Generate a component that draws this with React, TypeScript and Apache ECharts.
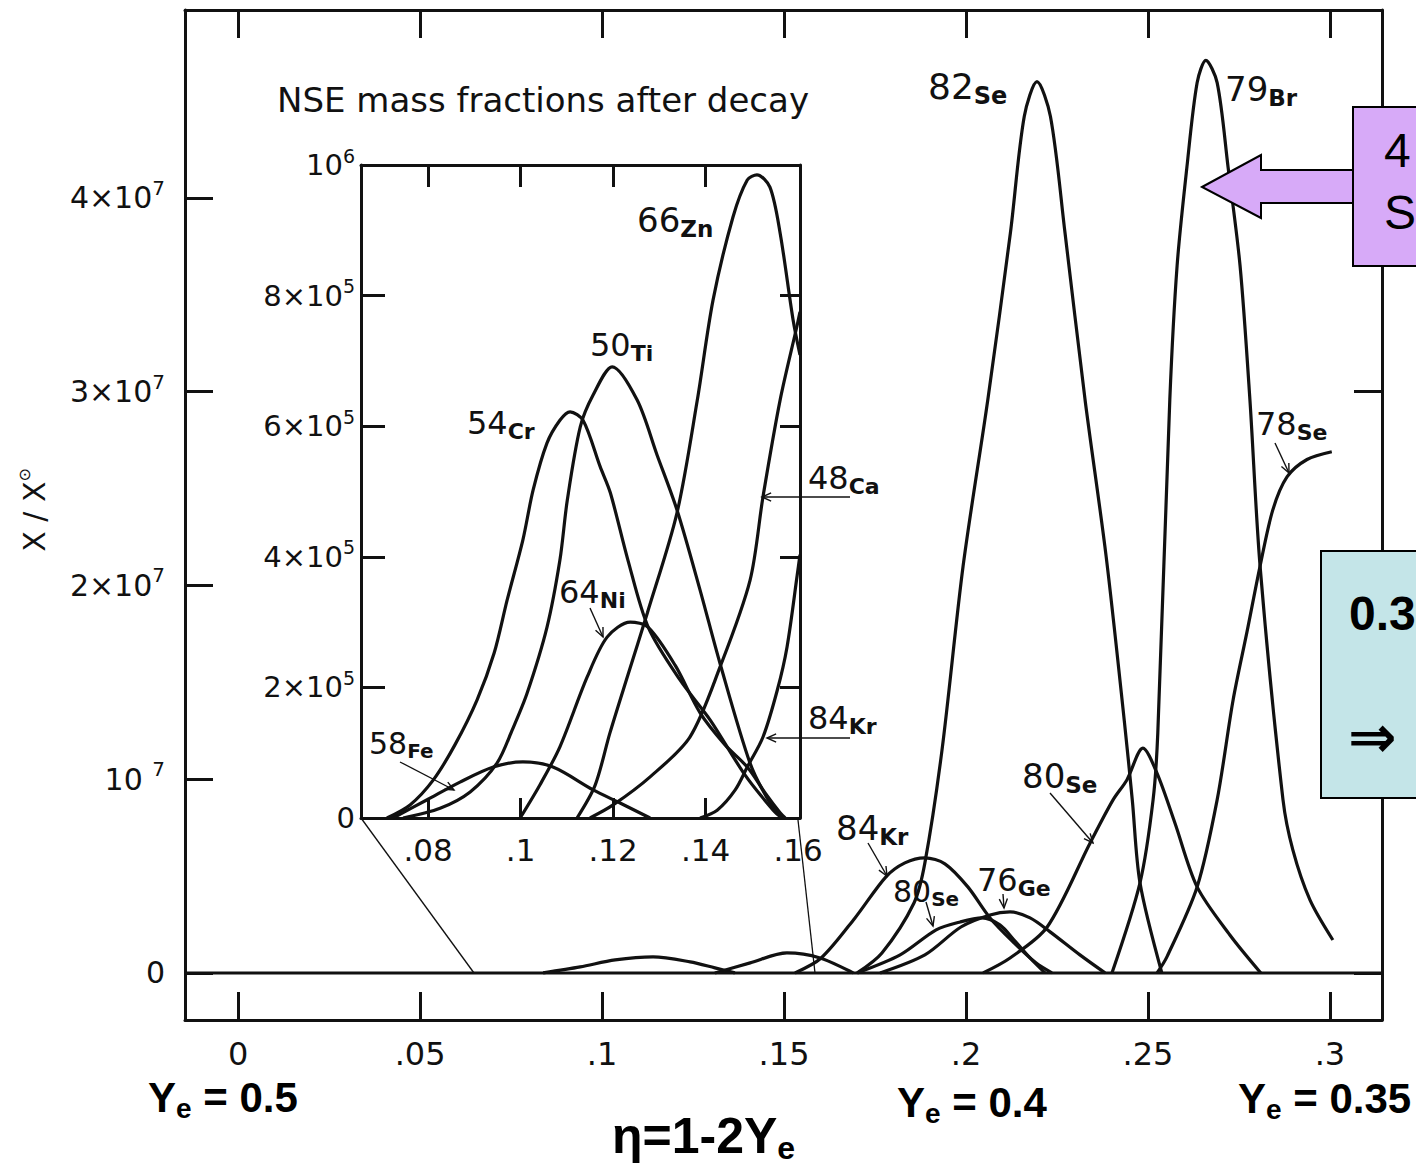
import React, { useEffect, useRef } from "react";
import * as echarts from "echarts";

const SANS = "DejaVu Sans";
const ARIAL = "Liberation Sans";
const INK = "#111";

// ---------------- axis ticks / labels ----------------
const mainXTicks = [0, 0.05, 0.1, 0.15, 0.2, 0.25, 0.3];
const mainXTickLabels = ["0", ".05", ".1", ".15", ".2", ".25", ".3"];
const mainYTicks = [0, 10, 20, 30, 40]; // units of 10^6
const mainYTickLabels = ["0", "10 ^7", "2×10^7", "3×10^7", "4×10^7"];
const insetXTicks = [0.08, 0.1, 0.12, 0.14, 0.16];
const insetXTopTicks = [0.08, 0.1, 0.12, 0.14];
const insetXTickLabels = [".08", ".1", ".12", ".14", ".16"];
const insetYTicks = [0, 2, 4, 6, 8, 10]; // units of 10^5
const insetYTickLabels = ["0", "2×10^5", "4×10^5", "6×10^5", "8×10^5", "10^6"];

const mainRange = { xMin: -0.0146, xMax: 0.3143, yMin: -2.43, yMax: 49.7 };
const insetRange = { xMin: 0.0655, xMax: 0.1604, yMin: 0, yMax: 10 };

// ---------------- main panel curves: [eta, X/Xsun in 10^6] ----------------
const se82 = [[0.1701, 0], [0.1769, 1.03], [0.1857, 3.61], [0.1887, 5.68], [0.1934, 11.5], [0.1992, 21.0], [0.206, 29.6], [0.2122, 38.2], [0.216, 44.2], [0.2195, 46.0], [0.2232, 44.2], [0.2272, 38.2], [0.2327, 29.6], [0.2385, 21.5], [0.2435, 13.0], [0.2457, 8.9], [0.2478, 4.65], [0.2538, 0]];
const br79 = [[0.2401, 0], [0.2478, 4.65], [0.2514, 8.93], [0.2527, 12.4], [0.256, 29.6], [0.258, 36.5], [0.2607, 41.6], [0.2635, 45.95], [0.2659, 47.1], [0.269, 45.95], [0.272, 41.6], [0.2753, 36.5], [0.278, 29.6], [0.2808, 21.0], [0.2871, 8.93], [0.2898, 6.35], [0.2945, 3.77], [0.3008, 1.7]];
const se78 = [[0.2525, 0], [0.2552, 0.83], [0.2635, 4.44], [0.269, 8.93], [0.2734, 14.1], [0.2772, 17.6], [0.2808, 21.0], [0.2843, 23.9], [0.2882, 25.6], [0.2937, 26.5], [0.3005, 26.9]];
const se80 = [[0.2047, 0], [0.2121, 0.77], [0.2223, 2.37], [0.2341, 6.71], [0.2404, 8.93], [0.2442, 9.96], [0.2486, 11.6], [0.2525, 10.3], [0.2574, 7.74], [0.2635, 4.44], [0.2725, 1.96], [0.281, 0]];
const kr84 = [[0.153, 0], [0.1602, 0.77], [0.1695, 2.84], [0.178, 4.96], [0.1832, 5.68], [0.1887, 5.94], [0.1942, 5.63], [0.2005, 4.44], [0.2066, 2.84], [0.2132, 1.55], [0.2192, 0.52], [0.2236, 0]];
const se80Low = [[0.1701, 0], [0.1819, 0.93], [0.1918, 2.22], [0.1984, 2.63], [0.2044, 2.84], [0.2093, 2.48], [0.2132, 1.7], [0.2176, 0.77], [0.2217, 0]];
const ge76 = [[0.1764, 0], [0.1887, 0.93], [0.1986, 2.37], [0.2066, 2.99], [0.2121, 3.15], [0.2176, 2.84], [0.2231, 2.12], [0.2313, 0.93], [0.2382, 0]];
const lowHumpA = [[0.0838, 0], [0.094, 0.31], [0.1036, 0.67], [0.114, 0.83], [0.1242, 0.57], [0.131, 0.26], [0.1365, 0]];
const lowHumpB = [[0.131, 0], [0.1407, 0.52], [0.1508, 1.03], [0.1599, 0.77], [0.169, 0]];
const zeroLine = [[mainRange.xMin, 0], [mainRange.xMax, 0]];

// ---------------- inset curves: [eta, X/Xsun in 10^5] ----------------
const fe58 = [[0.0724, 0], [0.0798, 0.28], [0.0869, 0.55], [0.0941, 0.78], [0.1005, 0.86], [0.107, 0.78], [0.1157, 0.43], [0.1215, 0.23], [0.128, 0]];
const cr54 = [[0.0711, 0], [0.0761, 0.2], [0.0811, 0.58], [0.0858, 1.12], [0.0906, 1.81], [0.0943, 2.53], [0.0971, 3.34], [0.1005, 4.26], [0.1027, 5.02], [0.1057, 5.74], [0.1085, 6.09], [0.1107, 6.22], [0.1135, 6.09], [0.1172, 5.38], [0.1194, 4.98], [0.1232, 3.95], [0.1276, 2.92], [0.1345, 2.11], [0.141, 1.5], [0.1485, 0.66], [0.1546, 0.12], [0.1565, 0]];
const ti50 = [[0.0746, 0], [0.0826, 0.15], [0.0891, 0.4], [0.0949, 0.84], [0.0982, 1.35], [0.1014, 1.91], [0.1057, 2.92], [0.1085, 3.95], [0.1101, 4.87], [0.1129, 5.99], [0.1157, 6.48], [0.1198, 6.91], [0.1252, 6.4], [0.1295, 5.56], [0.1338, 4.72], [0.1388, 3.49], [0.1431, 2.37], [0.1496, 0.84], [0.1535, 0.28], [0.1565, 0]];
const ni64 = [[0.0999, 0], [0.1042, 0.51], [0.1085, 1.09], [0.1144, 2.16], [0.1187, 2.77], [0.1237, 3.0], [0.1276, 2.92], [0.1334, 2.34], [0.1388, 1.61], [0.1442, 1.12], [0.149, 0.78], [0.1529, 0.38], [0.1561, 0.08], [0.1572, 0]];
const zn66 = [[0.1122, 0], [0.1161, 0.5], [0.1193, 1.3], [0.1232, 2.19], [0.1274, 3.14], [0.1338, 4.67], [0.1382, 6.4], [0.1416, 7.93], [0.1459, 9.2], [0.149, 9.77], [0.1511, 9.85], [0.1539, 9.66], [0.1561, 8.96], [0.1589, 7.63], [0.1604, 7.09]];
const ca48 = [[0.115, 0], [0.12, 0.2], [0.128, 0.63], [0.1366, 1.24], [0.1431, 2.31], [0.1496, 3.64], [0.1524, 4.92], [0.1561, 6.4], [0.1598, 7.55], [0.1604, 7.75]];
const kr84Inset = [[0.1388, 0], [0.1425, 0.12], [0.1464, 0.43], [0.149, 0.78], [0.1524, 1.24], [0.1555, 1.96], [0.1576, 2.62], [0.1598, 3.72], [0.1604, 4.03]];

const mainCurves = [se82, br79, se78, se80, kr84, se80Low, ge76, lowHumpA, lowHumpB];
const insetCurves = [fe58, cr54, ti50, ni64, zn66, ca48, kr84Inset];

// ---------------- annotation texts ----------------
const INSET_TITLE = "NSE mass fractions after decay";
const isotopeLabels = [
  { x: 928, y: 86, n: "82", e: "Se", s: 36 },
  { x: 1225, y: 89, n: "79", e: "Br", s: 34 },
  { x: 1256, y: 424, n: "78", e: "Se", s: 32 },
  { x: 1022, y: 776, n: "80", e: "Se", s: 34 },
  { x: 836, y: 828, n: "84", e: "Kr", s: 34 },
  { x: 893, y: 891, n: "80", e: "Se", s: 30 },
  { x: 977, y: 880, n: "76", e: "Ge", s: 32 },
  { x: 369, y: 743, n: "58", e: "Fe", s: 30 },
  { x: 467, y: 423, n: "54", e: "Cr", s: 32 },
  { x: 590, y: 345, n: "50", e: "Ti", s: 32 },
  { x: 559, y: 592, n: "64", e: "Ni", s: 32 },
  { x: 637, y: 220, n: "66", e: "Zn", s: 34 },
  { x: 808, y: 478, n: "48", e: "Ca", s: 32 },
  { x: 808, y: 718, n: "84", e: "Kr", s: 32 },
];
const calloutArrows = [
  [400, 762, 454, 790],
  [590, 608, 603, 637],
  [850, 497, 762, 497],
  [850, 738, 767, 738],
  [1275, 443, 1289, 473],
  [1050, 793, 1093, 843],
  [868, 843, 887, 876],
  [926, 902, 933, 926],
  [1003, 894, 1004, 908],
];
const yeLabels = [
  { x: 148, y: 1097, v: " = 0.5" },
  { x: 897, y: 1102, v: " = 0.4" },
  { x: 1238, y: 1098, v: " = 0.35" },
];

const pick = (ticks: number[], labels: string[]) => (v: number) => {
  const i = ticks.findIndex((t) => Math.abs(t - v) < 1e-9);
  return i >= 0 ? labels[i] : "";
};
const supRich = (s: string) => {
  if (!s) return "";
  const [a, b] = s.split("^");
  return b ? `{b|${a}}{s|${b}}` : `{b|${a}}`;
};

function buildOption() {
  const lineSeries = (data: number[][], xi: number, yi: number, w = 3.2) => ({
    type: "line",
    xAxisIndex: xi,
    yAxisIndex: yi,
    data,
    symbol: "none",
    smooth: 0.3,
    silent: true,
    lineStyle: { color: INK, width: w },
    z: 3,
  });

  const frame = { color: INK, width: 3 };
  const tickStyle = { color: INK, width: 3 };

  const xAxis: any[] = [
    {
      gridIndex: 0, type: "value", position: "bottom", min: mainRange.xMin, max: mainRange.xMax,
      axisLine: { show: true, onZero: false, lineStyle: frame },
      axisTick: { show: true, inside: true, length: 28, lineStyle: tickStyle, customValues: mainXTicks },
      axisLabel: { show: true, customValues: mainXTicks, formatter: pick(mainXTicks, mainXTickLabels), margin: 18, fontSize: 32, fontFamily: SANS, color: INK },
      splitLine: { show: false },
    },
    {
      gridIndex: 0, type: "value", position: "top", min: mainRange.xMin, max: mainRange.xMax,
      axisLine: { show: true, onZero: false, lineStyle: frame },
      axisTick: { show: true, inside: true, length: 28, lineStyle: tickStyle, customValues: mainXTicks },
      axisLabel: { show: false },
      splitLine: { show: false },
    },
    {
      gridIndex: 1, type: "value", position: "bottom", min: insetRange.xMin, max: insetRange.xMax,
      axisLine: { show: true, onZero: false, lineStyle: frame },
      axisTick: { show: true, inside: true, length: 20, lineStyle: tickStyle, customValues: insetXTopTicks },
      axisLabel: { show: true, customValues: insetXTicks, formatter: pick(insetXTicks, insetXTickLabels), margin: 16, fontSize: 31, fontFamily: SANS, color: INK },
      splitLine: { show: false },
    },
    {
      gridIndex: 1, type: "value", position: "top", min: insetRange.xMin, max: insetRange.xMax,
      axisLine: { show: true, onZero: false, lineStyle: frame },
      axisTick: { show: true, inside: true, length: 22, lineStyle: tickStyle, customValues: insetXTopTicks },
      axisLabel: { show: false },
      splitLine: { show: false },
    },
  ];

  const yAxis: any[] = [
    {
      gridIndex: 0, type: "value", position: "left", min: mainRange.yMin, max: mainRange.yMax,
      axisLine: { show: true, onZero: false, lineStyle: frame },
      axisTick: { show: true, inside: true, length: 28, lineStyle: tickStyle, customValues: mainYTicks },
      axisLabel: {
        show: true, customValues: mainYTicks, margin: 20,
        formatter: (v: number) => supRich(pick(mainYTicks, mainYTickLabels)(v)),
        rich: {
          b: { fontSize: 30, fontFamily: SANS, color: INK, lineHeight: 40 },
          s: { fontSize: 20, fontFamily: SANS, color: INK, verticalAlign: "top", lineHeight: 20 },
        },
      },
      splitLine: { show: false },
    },
    {
      gridIndex: 0, type: "value", position: "right", min: mainRange.yMin, max: mainRange.yMax,
      axisLine: { show: true, onZero: false, lineStyle: frame },
      axisTick: { show: true, inside: true, length: 28, lineStyle: tickStyle, customValues: mainYTicks },
      axisLabel: { show: false },
      splitLine: { show: false },
    },
    {
      gridIndex: 1, type: "value", position: "left", min: insetRange.yMin, max: insetRange.yMax,
      axisLine: { show: true, onZero: false, lineStyle: frame },
      axisTick: { show: true, inside: true, length: 24, lineStyle: tickStyle, customValues: insetYTicks },
      axisLabel: {
        show: true, customValues: insetYTicks, margin: 6,
        formatter: (v: number) => supRich(pick(insetYTicks, insetYTickLabels)(v)),
        rich: {
          b: { fontSize: 29, fontFamily: SANS, color: INK, lineHeight: 38 },
          s: { fontSize: 19, fontFamily: SANS, color: INK, verticalAlign: "top", lineHeight: 19 },
        },
      },
      splitLine: { show: false },
    },
    {
      gridIndex: 1, type: "value", position: "right", min: insetRange.yMin, max: insetRange.yMax,
      axisLine: { show: true, onZero: false, lineStyle: frame },
      axisTick: { show: true, inside: true, length: 20, lineStyle: tickStyle, customValues: insetYTicks },
      axisLabel: { show: false },
      splitLine: { show: false },
    },
  ];

  const series: any[] = [
    ...mainCurves.map((d) => lineSeries(d, 0, 0)),
    lineSeries(zeroLine, 0, 0, 3),
    ...insetCurves.map((d) => lineSeries(d, 2, 2)),
  ];

  // ---------- graphic annotations ----------
  const g: any[] = [];
  g.push({ type: "text", x: 277, y: 100, z: 100, style: { text: INSET_TITLE, fontSize: 34, fontFamily: SANS, fill: INK, verticalAlign: "middle" } });
  // zoom connector lines
  g.push({ type: "line", z: 100, shape: { x1: 361, y1: 818, x2: 474, y2: 973 }, style: { stroke: INK, lineWidth: 1.3 } });
  g.push({ type: "line", z: 100, shape: { x1: 798, y1: 820, x2: 815, y2: 973 }, style: { stroke: INK, lineWidth: 1.3 } });
  // y axis title
  g.push({
    type: "text", x: 34, y: 510, rotation: Math.PI / 2, z: 100,
    style: {
      text: "{m|X / X}{s|⊙}", align: "center", verticalAlign: "middle",
      rich: {
        m: { fontSize: 30, fontFamily: SANS, fill: INK, lineHeight: 36 },
        s: { fontSize: 16, fontFamily: SANS, fill: INK, verticalAlign: "top", lineHeight: 16 },
      },
    },
  });
  isotopeLabels.forEach((L) => {
    const sub = Math.round(L.s * 0.68);
    g.push({
      type: "text", x: L.x, y: L.y, z: 110,
      style: {
        text: `{n|${L.n}}{e|${L.e}}`, verticalAlign: "middle",
        rich: {
          n: { fontSize: L.s, fontFamily: SANS, fill: INK, lineHeight: Math.round(L.s * 1.2) },
          e: { fontSize: sub, fontFamily: SANS, fontWeight: "bold", fill: INK, verticalAlign: "bottom", lineHeight: sub },
        },
      },
    });
  });
  calloutArrows.forEach(([x1, y1, x2, y2]) => {
    const a = Math.atan2(y2 - y1, x2 - x1);
    const L = 10, w = 0.42;
    const p1 = [x2 - L * Math.cos(a - w), y2 - L * Math.sin(a - w)];
    const p2 = [x2 - L * Math.cos(a + w), y2 - L * Math.sin(a + w)];
    g.push({ type: "line", z: 110, shape: { x1, y1, x2, y2 }, style: { stroke: INK, lineWidth: 1.4 } });
    g.push({ type: "polyline", z: 110, shape: { points: [p1, [x2, y2], p2] }, style: { stroke: INK, lineWidth: 1.4, fill: null } });
  });
  yeLabels.forEach((L) => {
    g.push({
      type: "text", x: L.x, y: L.y, z: 110,
      style: {
        text: `{m|Y}{s|e}{m|${L.v}}`, verticalAlign: "middle",
        rich: {
          m: { fontSize: 42, fontFamily: ARIAL, fontWeight: "bold", fill: "#000", lineHeight: 50 },
          s: { fontSize: 28, fontFamily: ARIAL, fontWeight: "bold", fill: "#000", verticalAlign: "bottom", lineHeight: 28 },
        },
      },
    });
  });
  g.push({
    type: "text", x: 612, y: 1136, z: 110,
    style: {
      text: "{m|η=1-2Y}{s|e}", verticalAlign: "middle",
      rich: {
        m: { fontSize: 50, fontFamily: ARIAL, fontWeight: "bold", fill: "#000", lineHeight: 56 },
        s: { fontSize: 32, fontFamily: ARIAL, fontWeight: "bold", fill: "#000", verticalAlign: "bottom", lineHeight: 28 },
      },
    },
  });
  // purple call-out box with block arrow
  const purple = "#D7AAF8";
  g.push({
    type: "polygon", z: 120,
    shape: { points: [[1202, 187], [1261, 155], [1261, 170], [1354, 170], [1354, 203], [1261, 203], [1261, 218]] },
    style: { fill: purple, stroke: "#000", lineWidth: 2 },
  });
  g.push({ type: "rect", z: 121, shape: { x: 1353, y: 107, width: 120, height: 159 }, style: { fill: purple, stroke: "#000", lineWidth: 2 } });
  g.push({ type: "text", x: 1384, y: 150, z: 122, style: { text: "4", fontSize: 48, fontFamily: ARIAL, fill: "#000", verticalAlign: "middle" } });
  g.push({ type: "text", x: 1384, y: 212, z: 122, style: { text: "S", fontSize: 48, fontFamily: ARIAL, fill: "#000", verticalAlign: "middle" } });
  // cyan box
  g.push({ type: "rect", z: 121, shape: { x: 1321, y: 551, width: 140, height: 247 }, style: { fill: "#C4E5E8", stroke: "#000", lineWidth: 2 } });
  g.push({ type: "text", x: 1349, y: 613, z: 122, style: { text: "0.3", fontSize: 48, fontWeight: "bold", fontFamily: ARIAL, fill: "#000", verticalAlign: "middle" } });
  g.push({ type: "text", x: 1348, y: 737, z: 122, style: { text: "⇒", fontSize: 58, fontWeight: "bold", fontFamily: SANS, fill: "#000", verticalAlign: "middle" } });

  return {
    animation: false,
    backgroundColor: "#fff",
    textStyle: { fontFamily: SANS },
    grid: [
      { left: 185, top: 10, width: 1197, height: 1010, outerBoundsMode: "none", containLabel: false },
      { left: 361, top: 165, width: 439, height: 653, outerBoundsMode: "none", containLabel: false },
    ],
    xAxis,
    yAxis,
    series,
    graphic: { elements: g },
  };
}

export default function App() {
  const ref = useRef<HTMLDivElement>(null);
  useEffect(() => {
    if (!ref.current) return;
    const chart = echarts.init(ref.current, undefined, { renderer: "svg" });
    chart.setOption(buildOption() as any);
    return () => chart.dispose();
  }, []);
  return (
    <div
      ref={ref}
      style={{ position: "absolute", left: 0, top: 0, width: 1416, height: 1166, background: "#fff" }}
    />
  );
}
